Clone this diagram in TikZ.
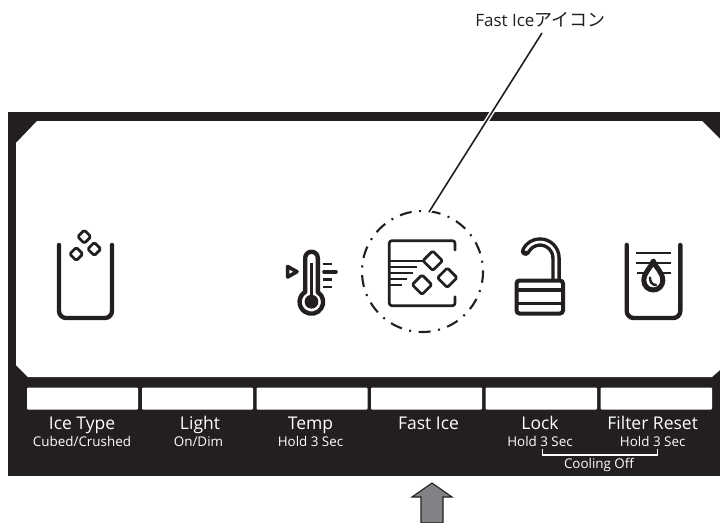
\documentclass[tikz,border=0pt]{standalone}
\usepackage{fontspec}
\setmainfont{Open Sans}
\newfontfamily\cjk{Noto Sans CJK JP}
\definecolor{ink}{HTML}{231F20}
\definecolor{arrowgray}{HTML}{808285}
\tikzset{
  x=1pt,y=-1pt,
  big/.style={anchor=base,text=white,font=\fontsize{17.5}{18}\selectfont,inner sep=0pt},
  small/.style={anchor=base,text=white,font=\fontsize{13.4}{14}\selectfont,inner sep=0pt},
  btn/.style={fill=white,rounded corners=1pt,draw=none},
  icon/.style={draw=ink,line width=4.4pt,line cap=round,line join=round},
  cube/.style={draw=ink,line width=2.7pt,rounded corners=1.5pt,line join=round},
  thin line/.style={draw=ink,line width=2.1pt},
}
\newcommand{\cubeat}[3]{\draw[cube] (#1-#3,#2) -- (#1,#2-#3) -- (#1+#3,#2) -- (#1,#2+#3) -- cycle;}
\begin{document}
\begin{tikzpicture}
\useasboundingbox (0,0) rectangle (720,522);
% panel
\fill[ink] (8,112) rectangle (720,476);
\fill[white] (37,121) -- (702,121) -- (720,139) -- (720,370) -- (712,377) -- (28,377) -- (16,365) -- (16,143) -- cycle;
\foreach \a/\b in {27/138,142/253,256.5/367.5,371/482,485.5/597,600.5/712}
  \fill[btn] (\a,387.5) rectangle (\b,409.5);
% labels
\node[big] (icetype) at (82,429) {Ice Type};
\node[small] (icesub) at (82,446.5) {Cubed/Crushed};
\node[big] (light) at (200,429) {Light};
\node[small] (lightsub) at (198.5,446.5) {On/Dim};
\node[big] (temp) at (310.5,429) {Temp};
\node[small] (tempsub) at (310.5,446.5) {Hold 3 Sec};
\node[big] (fastice) at (428.5,429) {Fast Ice};
\node[big] (lock) at (540,429) {Lock};
\node[small] (locksub) at (540,446.5) {Hold 3 Sec};
\node[big] (filter) at (652.7,429) {Filter Reset};
\node[small] (filtersub) at (652.7,446.5) {Hold 3 Sec};
\node[small] (cooling) at (599,468) {Cooling Off};
\draw[white,line width=1.4pt] (542.3,449) -- (542.3,455) -- (657.3,455) -- (657.3,449);
% ice glass
\draw[icon,rounded corners=7pt] (59,245) -- (59,318) -- (112,318) -- (112,245);
\cubeat{84.3}{236.7}{6.6}
\cubeat{94.3}{249}{6.6}
\cubeat{76.3}{254}{6.6}
% thermometer
\draw[ink,line width=3.6pt,line join=round] (287.6,266.5) -- (287.6,277) -- (297,271.7) -- cycle;
\draw[icon,line width=4.4pt,line cap=butt] (305.2,292) -- (305.2,258) arc[start angle=180,end angle=360,radius=6.3] -- (317.8,292) arc[start angle=-57,end angle=237,radius=11.8] -- cycle;
\draw[ink,line width=3.4pt] (311.5,263) -- (311.5,300);
\fill[ink] (311.5,301.7) circle[radius=6.9];
\draw[ink,line width=2.6pt] (323,264) -- (332,264) (323,279.3) -- (332,279.3) (323,287) -- (332,287);
\draw[ink,line width=3.6pt,line cap=round] (324,271.7) -- (336,271.7);
% fast ice icon
\draw[icon,line width=2.7pt,rounded corners=2.5pt] (455,250) -- (455,240.7) -- (389.3,240.7) -- (389.3,305.7) -- (455,305.7) -- (455,296.7);
\draw[thin line] (389,260.7) -- (423,260.7) (389,266.7) -- (416.7,266.7) (389,272.7) -- (412.7,272.7) (389,279) -- (406.7,279) (389,285.3) -- (401.7,285.3);
\cubeat{432.7}{260.7}{9.8}
\cubeat{447.3}{277.7}{9.8}
\cubeat{422}{284.7}{9.8}
% circle and leader
\node[circle,draw=ink,line width=2.1pt,minimum size=121pt,inner sep=0pt,dash pattern=on 12pt off 7.6pt on 2pt off 7.6pt,dash phase=10.8pt] (ring) at (422.5,271.5) {};
\node[anchor=base,text=ink,inner sep=0pt,font=\fontsize{17}{18}\selectfont] (title) at (540.5,27) {Fast Ice{\cjk\fontsize{18}{18}\selectfont アイコン}};
\coordinate (leadtop) at (542,33);
\coordinate (leadend) at (429,212);
\draw[white,line width=4.5pt] (leadtop) -- (leadend);
\draw[ink,line width=1.6pt] (leadtop) -- (leadend);
% lock
\draw[ink,line width=9.5pt,line cap=round] (556,280) -- (556,258) arc[start angle=0,end angle=-155,radius=16];
\draw[white,line width=2.6pt,line cap=round] (556,279) -- (556,258) arc[start angle=0,end angle=-150,radius=16];
\draw[ink,line width=4pt,rounded corners=3pt,fill=white] (516.5,280.5) rectangle (563,313.5);
\draw[ink,line width=3.4pt] (516,290) -- (563.5,290) (516,303.3) -- (563.5,303.3);
% filter
\draw[icon,rounded corners=7pt] (626.7,245) -- (626.7,318) -- (680.3,318) -- (680.3,245);
\draw[ink,line width=1.9pt] (636,252.7) -- (671,252.7) (636,263.3) -- (671,263.3) (637,273.3) -- (671,273.3);
\draw[ink,line width=5pt,fill=white,line join=round] (653.3,261) .. controls (655,267) and (662.8,272) .. (662.8,280.5) arc[start angle=0,end angle=180,radius=9.5] .. controls (643.8,272) and (651.6,267) .. cycle;
\draw[ink,line width=2.4pt,line cap=round] (650,277.5) .. controls (650,282) and (652,285) .. (656,285);
% arrow
\node[inner sep=0pt] (arrowtip) at (432,483) {};
\draw[ink,fill=arrowgray,line width=1.1pt,line join=miter] (arrowtip.center) -- (452,497) -- (443,497) -- (443,523) -- (421,523) -- (421,497) -- (412,497) -- cycle;
\end{tikzpicture}
\end{document}
